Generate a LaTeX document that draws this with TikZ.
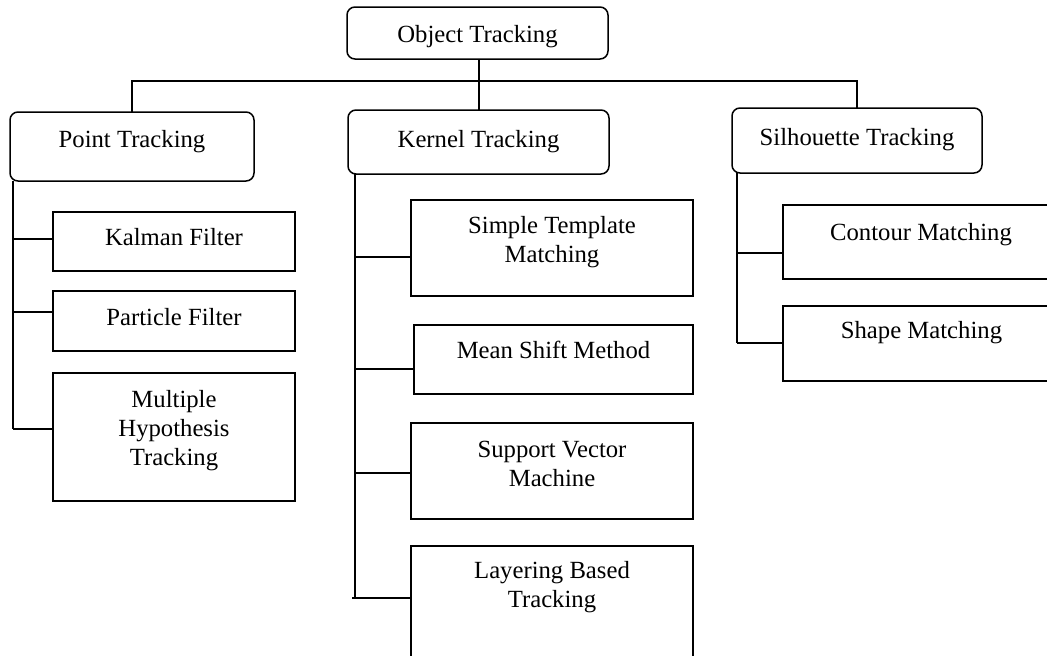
\documentclass[tikz,border=0pt]{standalone}
\usepackage{fontspec}
\setmainfont{Liberation Serif}
\begin{document}
\begin{tikzpicture}[x=1pt,y=-1pt,
  line width=1.5pt,
  rbox/.style={draw, rectangle, rounded corners=8pt, inner sep=0pt, outer sep=0pt},
  sbox/.style={draw, rectangle, inner sep=0pt, outer sep=0pt},
  txt/.style={inner sep=0pt, anchor=north, align=center, font=\fontsize{24.7}{28.8}\selectfont}]
\useasboundingbox (0,0) rectangle (1047,656);
\clip (0,0) rectangle (1047,656);
% boxes
\node[rbox, minimum width=261pt, minimum height=52pt] (obj) at (477.5,33) {};
\node[rbox, minimum width=244pt, minimum height=69pt] (pt) at (132,146.5) {};
\node[rbox, minimum width=261pt, minimum height=64pt] (ker) at (478.5,142) {};
\node[rbox, minimum width=250pt, minimum height=65pt] (sil) at (857,140.5) {};
\node[sbox, minimum width=242pt, minimum height=59pt] (kal) at (174,241.5) {};
\node[sbox, minimum width=242pt, minimum height=60pt] (par) at (174,321) {};
\node[sbox, minimum width=242pt, minimum height=128pt] (mht) at (174,437) {};
\node[sbox, minimum width=282pt, minimum height=96pt] (stm) at (552,248) {};
\node[sbox, minimum width=279pt, minimum height=69pt] (msm) at (553.5,359.5) {};
\node[sbox, minimum width=282pt, minimum height=96pt] (svm) at (552,471) {};
\node[sbox, minimum width=282pt, minimum height=154pt] (lbt) at (552,623) {};
\node[sbox, minimum width=317pt, minimum height=74pt] (con) at (941.5,242) {};
\node[sbox, minimum width=317pt, minimum height=75pt] (shp) at (941.5,343.5) {};
% texts
\node[txt] (tobj) at (477.5,22) {\rule{0pt}{20pt}Object Tracking};
\node[txt] (tpt) at (132,127) {\rule{0pt}{20pt}Point Tracking};
\node[txt] (tker) at (478.5,127) {\rule{0pt}{20pt}Kernel Tracking};
\node[txt] (tsil) at (857,125) {\rule{0pt}{20pt}Silhouette Tracking};
\node[txt] (tkal) at (174,225) {\rule{0pt}{20pt}Kalman Filter};
\node[txt] (tpar) at (174,305) {\rule{0pt}{20pt}Particle Filter};
\node[txt] (tmht) at (174,387) {\rule{0pt}{20pt}Multiple\\Hypothesis\\Tracking};
\node[txt] (tstm) at (552,213) {\rule{0pt}{20pt}Simple Template\\Matching};
\node[txt] (tmsm) at (553.5,338) {\rule{0pt}{20pt}Mean Shift Method};
\node[txt] (tsvm) at (552,437) {\rule{0pt}{20pt}Support Vector\\Machine};
\node[txt] (tlbt) at (552,558) {\rule{0pt}{20pt}Layering Based\\Tracking};
\node[txt] (tcon) at (921,220) {\rule{0pt}{20pt}Contour Matching};
\node[txt] (tshp) at (921.5,318) {\rule{0pt}{20pt}Shape Matching};
% connector points
\coordinate (bus) at (479,81);
\coordinate (p1) at (13,239);
\coordinate (p2) at (13,312);
\coordinate (p3) at (13,429);
\coordinate (k1) at (355,257);
\coordinate (k2) at (355,369);
\coordinate (k3) at (355,473);
\coordinate (k4) at (355,598);
\coordinate (k4s) at (352,598);
\coordinate (s1) at (737,253);
\coordinate (s2) at (737,343);
% top level
\draw (bus |- obj.south) -- (bus |- ker.north);
\draw (pt.north) -- (pt.north |- bus) -- (sil.north |- bus) -- (sil.north);
% point tracking
\draw (pt.south -| p1) -- (p3);
\draw (p1) -- (p1 -| kal.west);
\draw (p2) -- (p2 -| par.west);
\draw (p3) -- (p3 -| mht.west);
% kernel tracking
\draw (ker.south -| k1) -- (k4);
\draw (k1) -- (k1 -| stm.west);
\draw (k2) -- (k2 -| msm.west);
\draw (k3) -- (k3 -| svm.west);
\draw (k4s) -- (k4s -| lbt.west);
% silhouette tracking
\draw (sil.south -| s1) -- (s2);
\draw (s1) -- (s1 -| con.west);
\draw (s2) -- (s2 -| shp.west);
\end{tikzpicture}
\end{document}
